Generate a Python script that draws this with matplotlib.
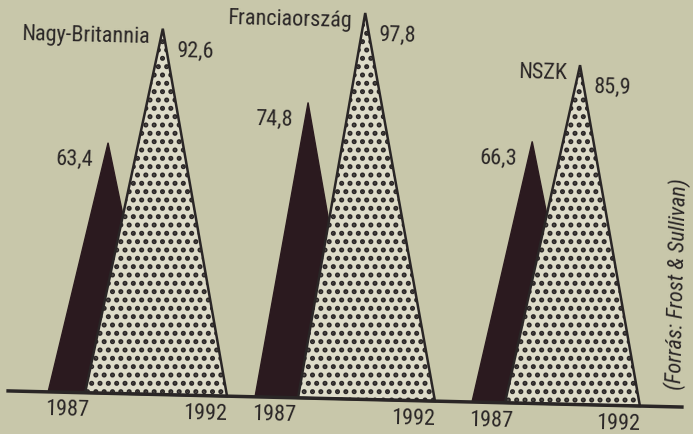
import numpy as np
import matplotlib.pyplot as plt
from matplotlib.patches import Polygon
from matplotlib.transforms import Affine2D

# data
countries = ["Nagy-Britannia", "Franciaország", "NSZK"]
years = ["1987", "1992"]
values_1987 = [63.4, 74.8, 66.3]
values_1992 = [92.6, 97.8, 85.9]
source = "(Forrás: Frost & Sullivan)"

# layout (x in pixels of the unrotated picture)
dark_left = [48, 255, 472]
dark_apex = [102, 301, 526]
dark_right = [160, 360, 585]
dot_left = [85, 298, 505]
dot_apex = [154, 356, 572]
dot_right = [227, 435, 640]

bg = "#c8c7aa"
ink = "#2a2626"
dark = "#2b1a1f"
light = "#dedcc9"
tilt = -1.37
fs = 16

plt.rcParams['font.family'] = ['Roboto Condensed', 'Liberation Sans', 'DejaVu Sans']
plt.rcParams['hatch.linewidth'] = 2.4

fig = plt.figure(figsize=(6.93, 4.34), dpi=100, facecolor=bg)
ax = fig.add_axes([0, 0, 1, 1])
ax.set_facecolor(bg)
ax.axis('off')
ax.set_autoscale_on(False)
ax.set_xlim(0, 693)
ax.set_ylim(-8.86, 101.0)

# the scanned page is slightly rotated
trans = ax.transData + Affine2D().rotate_deg_around(346, 35, tilt)

for i in range(len(countries)):
    v0 = values_1987[i]
    v1 = values_1992[i]
    p0 = Polygon([(dark_left[i], 0), (dark_apex[i], v0), (dark_right[i], 0)],
                 closed=True, facecolor=dark, edgecolor=dark, lw=1,
                 transform=trans, clip_on=False, zorder=2)
    ax.add_patch(p0)
    p1 = Polygon([(dot_left[i], 0), (dot_apex[i], v1), (dot_right[i], 0)],
                 closed=True, facecolor=light, edgecolor=ink, lw=1.8, hatch='..',
                 transform=trans, clip_on=False, zorder=3)
    ax.add_patch(p1)

    lab0 = f"{v0:.1f}".replace('.', ',')
    lab1 = f"{v1:.1f}".replace('.', ',')
    ax.text(dark_apex[i] - 14.5, v0 - 4.5, lab0, ha='right', va='center', fontsize=fs,
            color=ink, transform=trans, rotation=tilt, rotation_mode='anchor')
    ax.text(dot_apex[i] + 14.5, v1 - 5.5, lab1, ha='left', va='center', fontsize=fs,
            color=ink, transform=trans, rotation=tilt, rotation_mode='anchor')
    ax.text(dot_apex[i] - 13, v1 - 2.2, countries[i], ha='right', va='center', fontsize=fs,
            color=ink, transform=trans, rotation=tilt, rotation_mode='anchor')
    ax.text(dark_left[i] + 20, -4.6, years[0], ha='center', va='center', fontsize=fs,
            color=ink, transform=trans, rotation=tilt, rotation_mode='anchor')
    ax.text(dot_right[i] - 21, -4.6, years[1], ha='center', va='center', fontsize=fs,
            color=ink, transform=trans, rotation=tilt, rotation_mode='anchor')

# base line
ax.plot([8, 682], [0, 0], color=ink, lw=2.5, transform=trans, clip_on=False, zorder=4)

ax.text(674, 31, source, ha='center', va='center', fontsize=16, style='italic',
        color=ink, transform=trans, rotation=90 + tilt, rotation_mode='anchor')

fig.savefig("out.png", dpi=100, facecolor=bg)
